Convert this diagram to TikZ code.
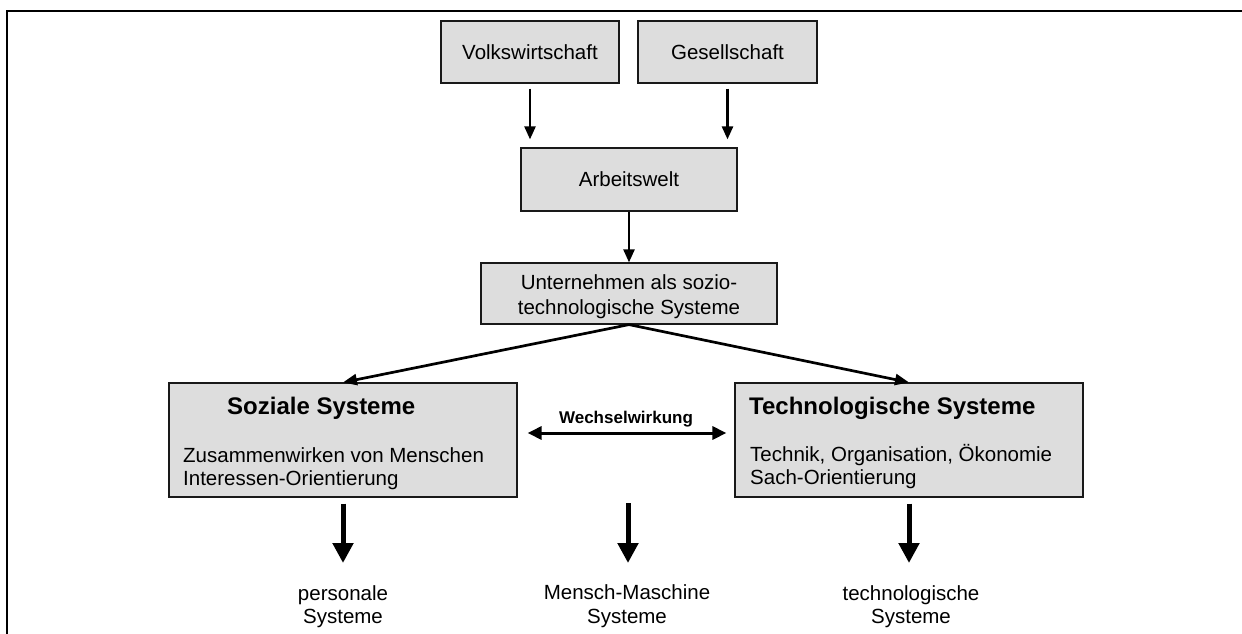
\documentclass[tikz,border=0pt]{standalone}
\usepackage{fontspec}
\setmainfont{Liberation Sans}
\usetikzlibrary{arrows.meta}
\definecolor{boxgray}{RGB}{221,221,221}
\definecolor{ink}{RGB}{25,25,25}
\newcommand\bodysize{\fontsize{20.5}{23}\selectfont}
\newcommand\titlesize{\fontsize{24}{28}\selectfont\bfseries}
\newcommand\linksize{\fontsize{17}{20}\selectfont\bfseries}

\begin{document}
\begin{tikzpicture}[x=1pt,y=-1pt,
  box/.style={draw=ink, line width=1.2pt, fill=boxgray, inner sep=0pt,
              font=\bodysize, align=center},
  txt/.style={inner sep=0pt, font=\bodysize},
  thinarrow/.style={draw=black, line width=2.4pt,
              -{Triangle[length=13pt,width=11pt]}},
  diagarrow/.style={draw=black, line width=2.7pt,
              -{Triangle[length=14pt,width=11pt]}},
  linkarrow/.style={draw=black, line width=3pt,
              {Triangle[length=14pt,width=13pt]}-{Triangle[length=14pt,width=13pt]}},
  bigarrow/.style={draw=black, line width=5pt,
              -{Triangle[length=20pt,width=20pt]}},
  lbl/.style={inner sep=0pt, anchor=base, align=center,
              font={\fontsize{20.5}{23}\selectfont}}]

\clip (0,0) rectangle (1242,634);
\fill[white] (0,0) rectangle (1242,634);

% outer frame (only top and left edges fall inside the page)
\draw[line width=2pt] (7,660) -- (7,11) -- (1270,11);

% upper chain
\node[box, minimum width=178pt, minimum height=62pt] (vw) at (530,52) {Volkswirtschaft};
\node[box, minimum width=179pt, minimum height=62pt] (gs) at (727.5,52) {Gesellschaft};
\node[box, minimum width=216pt, minimum height=63pt] (aw) at (629,179.5) {Arbeitswelt};
\node[box, minimum width=296pt, minimum height=61pt] (ut) at (629,293.5) {};
% multi-line text: the base anchor sits on the last line
\node[txt, anchor=base, align=center, font={\fontsize{20.5}{25}\selectfont}] (utt) at (629,314)
      {Unternehmen als sozio-\\technologische Systeme};

% the two subsystems
\node[box, minimum width=348pt, minimum height=114pt] (soz) at (343,440) {};
\node[box, minimum width=348pt, minimum height=114pt] (tech) at (909,440) {};

\node[txt, anchor=base west, font=\titlesize] (sozt) at (227,414) {Soziale Systeme};
\node[txt, anchor=base west, align=left, font={\fontsize{20.5}{23}\selectfont}] (sozb) at (183,485)
      {Zusammenwirken von Menschen\\Interessen-Orientierung};
\node[txt, anchor=base west, font=\titlesize] (techt) at (749,414) {Technologische Systeme};
\node[txt, anchor=base west, align=left, font={\fontsize{20.5}{23}\selectfont}] (techb) at (750,484)
      {Technik, Organisation, Ökonomie\\Sach-Orientierung};

% connectors
\draw[thinarrow, shorten <=5pt, shorten >=8pt] (vw.south) -- (vw.south |- aw.north);
\draw[thinarrow, shorten <=5pt, shorten >=8pt] (gs.south) -- (gs.south |- aw.north);
\draw[thinarrow] (aw.south) -- (ut.north);
\draw[diagarrow] (ut.south) -- (soz.north);
\draw[diagarrow] (ut.south) -- (tech.north);
\draw[linkarrow, shorten <=10pt, shorten >=8pt] ([yshift=7pt]soz.east) -- ([yshift=7pt]tech.west)
      node[midway, anchor=base, yshift=10pt, inner sep=0pt, font=\linksize] {Wechselwirkung};

% resulting system types
\node[lbl] (pl) at (343,623) {personale\\Systeme};
\node[lbl, font={\fontsize{20.5}{24}\selectfont}] (ml) at (627,623) {Mensch-Maschine\\Systeme};
\node[lbl] (tl) at (911,623) {technologische\\Systeme};

\coordinate (mtop) at (628,497);
\coordinate (pa) at (343,563);
\coordinate (ma) at (628,563);
\coordinate (ta) at (909,563);
\draw[bigarrow, shorten <=6pt] (soz.south) -- (pa);
\draw[bigarrow, shorten <=6pt] (mtop) -- (ma);
\draw[bigarrow, shorten <=6pt] (tech.south) -- (ta);
\end{tikzpicture}
\end{document}
